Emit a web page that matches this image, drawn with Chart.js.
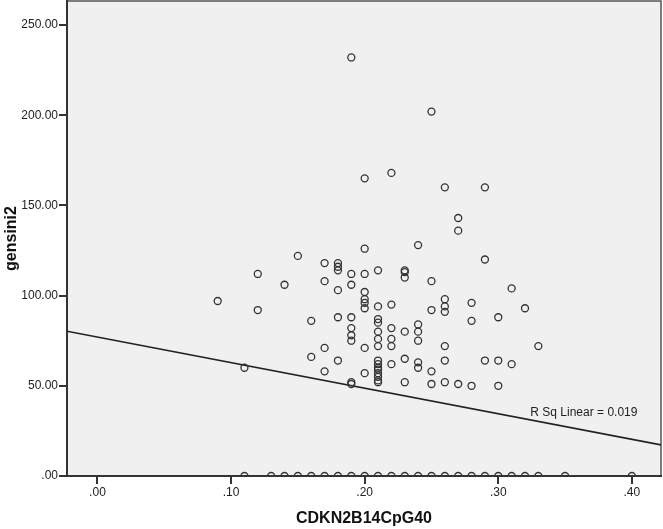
<!DOCTYPE html>
<html>
<head>
<meta charset="utf-8">
<script src="https://cdn.jsdelivr.net/npm/chart.js@4/dist/chart.umd.min.js"></script>
<style>
body{margin:0;background:#fff}
</style>
</head>
<body>
<canvas id="scatter" width="663" height="529"></canvas>
<script>
// CDKN2B14CpG40 levels and the gensini2 values seen at each level
let cpgLevels = [0.09,0.11,0.12,0.13,0.14,0.15,0.16,0.17,0.18,0.19,0.20,0.21,0.22,0.23,0.24,0.25,0.26,0.27,0.28,0.29,0.30,0.31,0.32,0.33,0.35,0.40]
let gensiniAt = [
  [97],
  [60,0],
  [112,92],
  [0],
  [106,0],
  [122,0],
  [86,66,0],
  [118,108,71,58,0],
  [118,116,114,103,88,64,0],
  [232,112,106,88,82,78,75,52,51,0],
  [165,126,112,102,98,96,93,71,57,0],
  [114,94,87,85,80,76,72,64,62,60,59,57,55,53,52,0],
  [168,95,82,76,72,62,0],
  [114,113,110,80,65,52,0],
  [128,84,80,75,63,60,0],
  [202,108,92,58,51,0],
  [160,98,94,91,72,64,52,0],
  [143,136,51,0],
  [96,86,50,0],
  [160,120,64,0],
  [88,64,50,0],
  [104,62,0],
  [93,0],
  [72,0],
  [0],
  [0]
]
let xTicks = [0,0.1,0.2,0.3,0.4]
let yTicks = [0,50,100,150,200,250]
let fitIntercept = 77.0
let fitSlope = -141.7
let rSquared = '0.019'
let labelAt = [0.324, 35]

let xMin = -0.0228, xMax = 0.4218
let yMin = 0, yMax = 263.3

let points = []
cpgLevels.forEach((c,i) => {
  gensiniAt[i].forEach(g => points.push({x:c, y:g}))
})
let fitLine = [xMin, xMax].map(v => ({x:v, y:fitIntercept + fitSlope*v}))

let spss = v => v.toFixed(2).replace(/^0\./,'.')
let font = '"Liberation Sans", Arial, sans-serif'

const frame = {
  id:'frame',
  beforeDraw(chart){
    const {ctx, chartArea:a} = chart
    ctx.save()
    ctx.fillStyle = '#fff'
    ctx.fillRect(0,0,chart.width,chart.height)
    ctx.fillStyle = '#f0f0f0'
    ctx.fillRect(a.left,a.top,a.right-a.left,a.bottom-a.top)
    ctx.strokeStyle = '#555'
    ctx.lineWidth = 1.5
    ctx.beginPath()
    ctx.moveTo(a.left,a.top)
    ctx.lineTo(a.right,a.top)
    ctx.lineTo(a.right,a.bottom)
    ctx.stroke()
    ctx.restore()
  },
  afterDatasetsDraw(chart){
    const {ctx, scales} = chart
    ctx.save()
    ctx.font = '12px ' + font
    ctx.fillStyle = '#222'
    ctx.textBaseline = 'middle'
    ctx.fillText('R Sq Linear = ' + rSquared, scales.x.getPixelForValue(labelAt[0]), scales.y.getPixelForValue(labelAt[1]))
    ctx.restore()
  }
}

new Chart(document.getElementById('scatter').getContext('2d'), {
  type:'scatter',
  data:{
    datasets:[{
      data:points,
      pointStyle:'circle',
      pointRadius:3.5,
      pointBorderWidth:1.3,
      pointBorderColor:'#333',
      pointBackgroundColor:'rgba(0,0,0,0)',
      clip:0
    },{
      type:'line',
      data:fitLine,
      borderColor:'#222',
      borderWidth:1.6,
      pointRadius:0,
      fill:false,
      clip:0
    }]
  },
  options:{
    responsive:false,
    animation:false,
    devicePixelRatio:1,
    layout:{autoPadding:false, padding:{top:1,right:2,left:0,bottom:0}},
    plugins:{legend:{display:false}, tooltip:{enabled:false}},
    scales:{
      x:{
        type:'linear',
        min:xMin, max:xMax,
        afterBuildTicks: s => { s.ticks = xTicks.map(v => ({value:v})) },
        afterFit: s => { s.height = 53; s.paddingLeft = 0; s.paddingRight = 0 },
        border:{color:'#333', width:2},
        grid:{drawOnChartArea:false, drawTicks:true, tickLength:8, color:'#333', lineWidth:2},
        ticks:{color:'#222', padding:1, font:{family:font, size:12}, callback: v => spss(v), maxRotation:0},
        title:{display:true, text:'CDKN2B14CpG40', color:'#111', font:{family:font, size:16, weight:'bold'}, padding:{top:0,bottom:1}}
      },
      y:{
        type:'linear',
        min:yMin, max:yMax,
        afterBuildTicks: s => { s.ticks = yTicks.map(v => ({value:v})) },
        afterFit: s => { s.width = 67; s.paddingTop = 0; s.paddingBottom = 0 },
        border:{color:'#333', width:2},
        grid:{drawOnChartArea:false, drawTicks:true, tickLength:8, color:'#333', lineWidth:2},
        ticks:{color:'#222', padding:1, font:{family:font, size:12}, callback: v => spss(v)},
        title:{display:true, text:'gensini2', color:'#111', font:{family:font, size:16, weight:'bold'}, padding:{top:2,bottom:0}}
      }
    }
  },
  plugins:[frame]
})
</script>
</body>
</html>
